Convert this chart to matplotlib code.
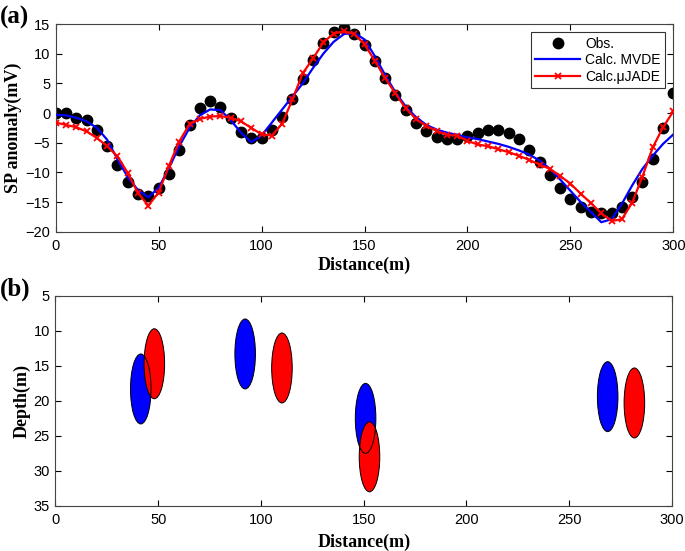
import numpy as np
import matplotlib
matplotlib.use('Agg')
import matplotlib.pyplot as plt
from matplotlib.patches import Ellipse

# distance stations (m)
dist = np.arange(0, 301, 5)

obs = [0.0, 0.0, -0.8, -1.1, -2.8, -5.6, -8.7, -11.7, -13.6, -14.0,
       -12.7, -10.2, -6.2, -2.0, 0.9, 2.0, 1.0, -0.9, -3.2, -4.2,
       -4.2, -2.8, -0.7, 2.4, 5.8, 8.9, 11.8, 13.7, 14.3, 13.3,
       11.4, 8.8, 5.9, 3.1, 0.5, -1.6, -3.1, -4.1, -4.4, -4.3,
       -3.8, -3.3, -2.8, -2.8, -3.4, -4.4, -6.2, -8.3, -10.5, -12.6,
       -14.5, -15.9, -16.6, -16.9, -16.8, -15.9, -14.2, -11.6, -7.7, -2.5,
       3.3]

mvde = [-0.3, -0.4, -0.8, -1.4, -2.5, -4.5, -7.8, -10.8, -13.0, -14.2,
        -12.6, -9.3, -5.6, -2.5, -0.4, 0.6, 0.5, -1.2, -3.3, -4.9,
        -3.8, -1.6, 0.6, 2.8, 5.0, 7.6, 10.0, 12.0, 13.3, 13.5,
        12.4, 9.6, 6.4, 3.5, 1.1, -0.7, -2.0, -2.8, -3.3, -3.7,
        -4.1, -4.4, -4.8, -5.2, -5.7, -6.3, -7.0, -8.0, -9.4, -11.2,
        -13.1, -15.0, -16.7, -18.4, -17.9, -15.3, -12.2, -9.4, -7.2, -5.2,
        -3.6]

jade = [-1.6, -2.0, -2.4, -3.1, -4.2, -5.6, -7.3, -10.1, -13.5, -15.6,
        -13.4, -8.9, -4.8, -1.9, -1.0, -0.6, -0.5, -0.8, -1.4, -2.5,
        -3.6, -3.8, -1.8, 2.3, 6.7, 9.2, 11.9, 13.4, 13.8, 13.3,
        11.6, 8.8, 5.9, 3.3, 0.8, -1.0, -2.2, -3.0, -3.7, -3.8,
        -4.7, -5.3, -5.6, -6.1, -6.6, -7.2, -7.9, -8.7, -9.4, -10.6,
        -11.9, -13.6, -15.2, -16.9, -18.2, -17.9, -15.1, -10.7, -5.8, -2.4,
        0.3]

# source bodies: (x0, depth)
mvde_x = [41.5, 92.3, 150.9, 268.7]
mvde_z = [18.3, 13.3, 22.5, 19.4]
jade_x = [48.1, 110.2, 152.8, 281.7]
jade_z = [14.7, 15.3, 28.0, 20.3]
body_size = 10.0

tick_font = 'Liberation Sans'
lab_font = 'Liberation Serif'

fig = plt.figure(figsize=(6.85, 5.51), dpi=100)
ax1 = fig.add_axes([0.0813, 0.5795, 0.9017, 0.3769])
ax2 = fig.add_axes([0.081, 0.082, 0.900, 0.381])

ax1.plot(dist, obs, 'o', color='black', ms=7.5, label='Obs.', zorder=2)
ax1.plot(dist, mvde, '-', color='blue', lw=1.6, label='Calc. MVDE', zorder=3)
ax1.plot(dist, jade, '-x', color='red', lw=1.6, ms=5, mew=1.3,
         label='Calc.\u03bcJADE', zorder=4)
ax1.set_xlim(0, 300)
ax1.set_ylim(-20, 15)
ax1.set_xticks(np.arange(0, 301, 50))
ax1.set_yticks(np.arange(-20, 16, 5))
ax1.set_xlabel('Distance(m)', family=lab_font, weight='bold', fontsize=13, labelpad=3)
ax1.set_ylabel('SP anomaly(mV)', family=lab_font, weight='bold', fontsize=13, labelpad=2)
leg = ax1.legend(loc='upper right', fancybox=False, edgecolor='black',
                 prop={'family': tick_font, 'size': 10}, borderpad=0.3,
                 handlelength=3.2, handletextpad=0.4, labelspacing=0.2,
                 borderaxespad=0.6)
leg.get_frame().set_linewidth(0.8)

for xx, zz in zip(mvde_x, mvde_z):
    ax2.add_patch(Ellipse((xx, zz), body_size, body_size, facecolor='blue',
                          edgecolor='none', zorder=2))
for xx, zz in zip(jade_x, jade_z):
    ax2.add_patch(Ellipse((xx, zz), body_size, body_size, facecolor='red',
                          edgecolor='none', zorder=3))
for xx, zz in zip(mvde_x + jade_x, mvde_z + jade_z):
    ax2.add_patch(Ellipse((xx, zz), body_size, body_size, facecolor='none',
                          edgecolor='black', lw=0.7, zorder=4))
ax2.set_xlim(0, 300)
ax2.set_ylim(35, 5)
ax2.set_xticks(np.arange(0, 301, 50))
ax2.set_yticks(np.arange(5, 36, 5))
ax2.set_xlabel('Distance(m)', family=lab_font, weight='bold', fontsize=13, labelpad=5)
ax2.set_ylabel('Depth(m)', family=lab_font, weight='bold', fontsize=13, labelpad=2)

for ax in (ax1, ax2):
    ax.tick_params(direction='in', top=True, right=True, length=4, width=0.8,
                   labelsize=10.5)
    ax.tick_params(axis='x', pad=5)
    ax.tick_params(axis='y', pad=4)
    for lbl in ax.get_xticklabels() + ax.get_yticklabels():
        lbl.set_family(tick_font)
    for sp in ax.spines.values():
        sp.set_color('#444444')
        sp.set_linewidth(0.8)

fig.text(0.0, 0.99, '(a)', family=lab_font, weight='bold', fontsize=18, va='top', ha='left')
fig.text(0.0, 0.497, '(b)', family=lab_font, weight='bold', fontsize=18, va='top', ha='left')

fig.savefig('out.png', dpi=100)
